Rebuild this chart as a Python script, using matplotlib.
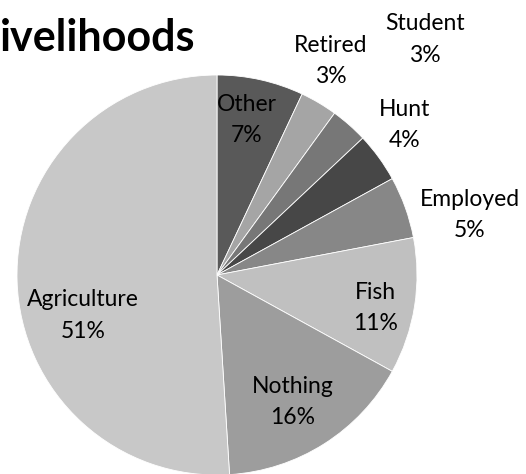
import numpy as np
import matplotlib.pyplot as plt

# Livelihood shares (percent), clockwise from 12 o'clock
categories = ["Other", "Retired", "Student", "Hunt", "Employed", "Fish", "Nothing", "Agriculture"]
shares = [7, 3, 3, 4, 5, 11, 16, 51]

colors = ["#595959", "#a5a5a5", "#777777", "#474747", "#878787", "#c0c0c0", "#9d9d9d", "#c8c8c8"]

# label placement: (radius factor, clockwise angle offset in degrees from the wedge middle)
label_place = [
    (0.79, -1.7),
    (1.21, -2.6),
    (1.57, 0.0),
    (1.20, -2.6),
    (1.30, 6.5),
    (0.81, 2.8),
    (0.74, 1.7),
    (0.70, -15.0),
]

plt.rcParams["font.family"] = ["Lato", "DejaVu Sans"]

fig = plt.figure(figsize=(5.26, 4.74), dpi=100)
W, H = 526, 474
cx, cy, r = 217, 474 - 275, 200
ax = fig.add_axes([(cx - r) / W, (cy - r) / H, 2 * r / W, 2 * r / H])

wedges, _ = ax.pie(shares, colors=colors, startangle=90, counterclock=False,
                   radius=1.0, wedgeprops=dict(edgecolor="white", linewidth=0.6))
ax.set_xlim(-1, 1)
ax.set_ylim(-1, 1)
ax.set_aspect("equal")
ax.axis("off")

for w, name, val, (rf, off) in zip(wedges, categories, shares, label_place):
    mid = np.deg2rad((w.theta1 + w.theta2) / 2 - off)
    x, y = rf * np.cos(mid), rf * np.sin(mid)
    ax.text(x, y, f"{name}\n{val}%", ha="center", va="center", fontsize=16.5,
            color="black", linespacing=1.6, clip_on=False)

fig.text(0.0, 1 - 38 / H, "ivelihoods", ha="left", va="center",
         fontsize=31, fontweight="bold", color="black")

fig.savefig("out.png", dpi=100, facecolor="white")
